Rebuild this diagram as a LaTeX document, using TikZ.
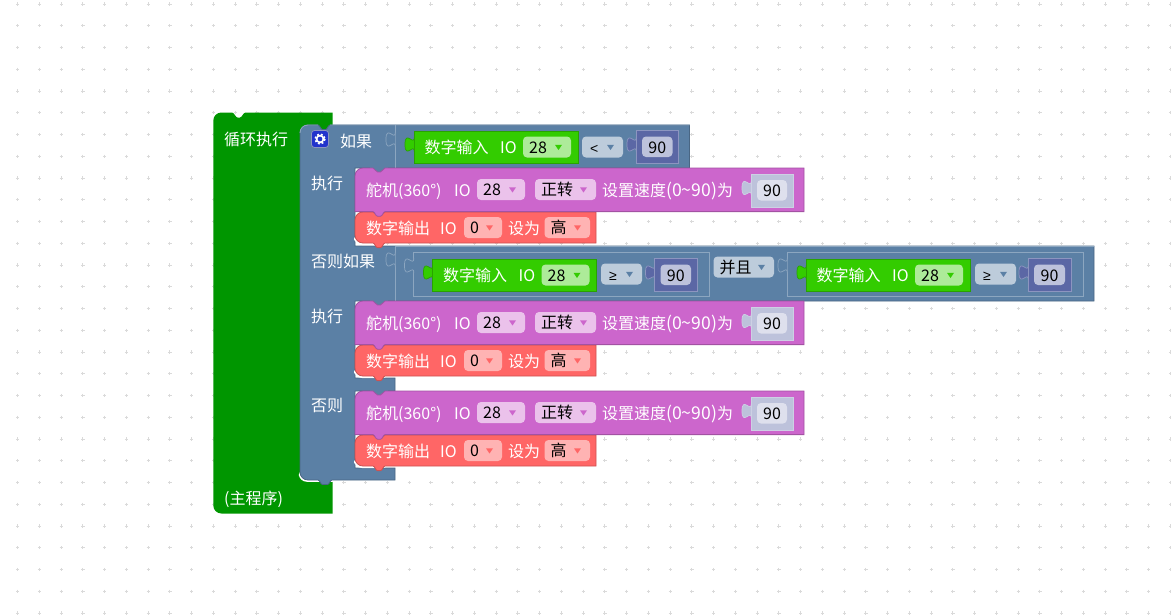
\documentclass[tikz,border=0pt]{standalone}
\usepackage{fontspec}
\setmainfont{Noto Sans CJK SC}
\newfontfamily\symf{Liberation Sans}
\definecolor{mainG}{HTML}{009600}
\definecolor{logic}{HTML}{5B80A5}
\definecolor{logicL}{HTML}{8CA6C0}
\definecolor{logicD}{HTML}{496684}
\definecolor{logicF}{HTML}{BDCCDB}
\definecolor{purp}{HTML}{CC66CC}
\definecolor{purpD}{HTML}{A352A3}
\definecolor{purpF}{HTML}{EBC2EB}
\definecolor{redb}{HTML}{FF6666}
\definecolor{redD}{HTML}{CC5252}
\definecolor{redF}{HTML}{FFB3B3}
\definecolor{grn}{HTML}{33CC00}
\definecolor{grnD}{HTML}{29A300}
\definecolor{grnF}{HTML}{ADEB99}
\definecolor{indi}{HTML}{5B67A5}
\definecolor{indiL}{HTML}{8C95C0}
\definecolor{indiF}{HTML}{BDC2DB}
\definecolor{shad}{HTML}{BDC2DB}
\definecolor{shadL}{HTML}{CDD0E4}
\definecolor{shadF}{HTML}{DEE0ED}
\definecolor{dotc}{HTML}{DADADA}
\definecolor{iconb}{HTML}{2233CC}
\newcount\nn
\newcommand{\wtxt}[3]{\global\advance\nn by 1 \node[wtext] (t\the\nn) at (#1,{#2+6.3}) {#3};}
% x1 x2 ymid fill arrow text
\newcommand{\ddown}[6]{\global\advance\nn by 1
  \path[fill=#4,rounded corners=4pt] (#1,{#3-10.5}) rectangle (#2,{#3+10.5});
  \node[btext] (t\the\nn) at ({#1+6},{#3+6.3}) {#6};
  \path[fill=#5] ({#2-16},{#3-2.2}) -- ({#2-9},{#3-2.2}) -- ({#2-12.5},{#3+3}) -- cycle;}
% x(left) ytop fill draw
\newcommand{\tabb}[4]{\path[fill=#3,draw=#4,line width=.7,shift={(#1,#2)}] (0.4,0) .. controls (0.4,10) and (-9,-8) .. (-9,7.5) .. controls (-9,23) and (0.4,5) .. (0.4,15);}
% x1 x2 ymid blockfill edge fieldfill text
\newcommand{\valb}[7]{\global\advance\nn by 1
  \tabb{#1}{{#3-10}}{#4}{#5}
  \path[fill=#4,draw=#5,line width=.8] (#1,{#3-16.5}) rectangle (#2,{#3+16.5});
  \path[fill=#6,rounded corners=4pt] ({#1+6},{#3-10.5}) rectangle ({#2-6},{#3+10});
  \node[btext,anchor=base] (t\the\nn) at ({(#1+#2)/2},{#3+6.3}) {#7};}
% x1 ymid: digital input block
\newcommand{\dinb}[2]{%
  \tabb{#1}{{#2-10}}{grn}{grnD}
  \path[fill=grn,draw=grnD,line width=.8] (#1,{#2-16}) rectangle ({#1+164},{#2+16});
  \wtxt{#1+10.5}{#2}{数字输入}
  \wtxt{#1+86}{#2}{IO}
  \ddown{#1+109}{#1+157}{#2}{grnF}{grn}{28}}
% x y w h fill draw r
\newcommand{\stmt}[7]{\path[fill=#5,draw=#6,line width=.8,shift={(#1,#2)}]
  (0,8) .. controls (0,3.5) and (3.5,0) .. (8,0) -- (18,0)
  .. controls (20,0.2) and (20.5,4) .. (22.5,4) -- (25.5,4) .. controls (27.5,4) and (28,0.2) .. (30,0)
  -- (#3,0) -- (#3,#4) -- (30,#4)
  .. controls (28,{#4+0.2}) and (27.5,{#4+4.6}) .. (25.5,{#4+4.6}) -- (22.5,{#4+4.6}) .. controls (20.5,{#4+4.6}) and (20,{#4+0.2}) .. (18,#4)
  -- ({#7},#4) .. controls ({.44*#7},#4) and (0,{#4-.44*#7}) .. (0,{#4-#7}) -- cycle;}
\tikzset{
  wtext/.style={anchor=base west,inner sep=0pt,text=white,font=\fontsize{16}{16}\selectfont},
  btext/.style={anchor=base west,inner sep=0pt,text=black,font=\fontsize{16}{16}\selectfont},
  frameb/.style={draw=logicL,line width=.8,fill=logic}
}
\begin{document}
\begin{tikzpicture}[x=1pt,y=-1pt]
\useasboundingbox (0,0) rectangle (1171,616);
\path[fill=white] (0,0) rectangle (1171,616);
% dot grid
\foreach \i in {0,...,53}{\foreach \j in {0,...,28}{
  \pgfmathsetmacro\dx{17.7+21.75*\i}\pgfmathsetmacro\dy{4+21.75*\j}
  \draw[dotc,line width=1] (\dx-1.7,\dy) -- (\dx+1.7,\dy) (\dx,\dy-1.7) -- (\dx,\dy+1.7);
}}
% main loop block
\path[fill=mainG] (213.3,120.5) .. controls (213.3,116) and (217,112.5) .. (221.3,112.5) -- (232,112.5)
  .. controls (234.5,112.7) and (235.5,117.5) .. (237.5,117.5) -- (240,117.5) .. controls (242,117.5) and (243,112.7) .. (245.5,112.5)
  -- (332.5,112.5) -- (332.5,125) -- (330,125) .. controls (328,125.2) and (327.5,129.5) .. (325.5,129.5) -- (322.5,129.5) .. controls (320.5,129.5) and (320,125.2) .. (318,125)
  -- (308,125) .. controls (303.5,125) and (300,128.5) .. (300,133) -- (300,472)
  .. controls (300,476.5) and (303.5,480) .. (308,480) -- (332.5,480) -- (332.5,513.5) -- (221.3,513.5)
  .. controls (217,513.5) and (213.3,510) .. (213.3,505.5) -- cycle;
\path[fill=white,rounded corners=8pt] (298.8,468) rectangle (345,481.8);
% logic block
\path[fill=logic,draw=logicD,line width=.8]
  (300,133) .. controls (300,128.5) and (303.5,125) .. (308,125) -- (318,125)
  .. controls (320,125.2) and (320.5,129.5) .. (322.5,129.5) -- (325.5,129.5) .. controls (327.5,129.5) and (328,125.2) .. (330,125)
  -- (689.5,125) -- (689.5,168) -- (355,168) -- (355,246) -- (1094,246) -- (1094,301) -- (355,301) -- (355,378)
  -- (395,378) -- (395,391) -- (355,391) -- (355,468) -- (395,468) -- (395,480) -- (332,480)
  .. controls (330,480.2) and (329.5,484.5) .. (327.5,484.5) -- (322.5,484.5) .. controls (320.5,484.5) and (320,480.2) .. (318,480)
  -- (308,480) .. controls (303.5,480) and (300,476.5) .. (300,472) -- cycle;
\draw[logicL,line width=.9] (300,133) .. controls (300,128.5) and (303.5,125) .. (308,125) -- (318,125) (330,125) -- (689.5,125);
\draw[logicL,line width=.9] (395,246.2) -- (1094,246.2);
\draw[logicL,line width=.9] (395,125) -- (395,168) (395,246) -- (395,301);
\tabb{395}{132}{logic}{logicL}
\tabb{395}{252}{logic}{logicL}
% icon
\path[fill=iconb,draw=indiL,line width=.8,rounded corners=3pt] (311.5,130.5) rectangle (328.5,147.5);
\draw[white,line width=1.7,dash pattern=on 1.9pt off 2pt] (320,139) circle (4.9);
\draw[white,line width=1.6] (320,139) circle (3.4);
% labels on blocks
\wtxt{224}{139}{循环执行}
\wtxt{340}{141}{如果}
\wtxt{311}{183}{执行}
\wtxt{311}{261}{否则如果}
\wtxt{311}{316}{执行}
\wtxt{311}{405}{否则}
\wtxt{224}{498}{(主程序)}
% if-row
\dinb{414}{147}
\ddown{582}{623}{147}{logicF}{logic}{\hspace{2pt}\symf\fontsize{14}{14}\selectfont <}
\valb{636}{678.5}{147}{indi}{indiL}{indiF}{90}
% else-if row
\path[frameb] (413.5,252) rectangle (709,296);
\tabb{413.5}{258}{logic}{logicL}
\dinb{432.5}{275}
\ddown{601}{642}{274}{logicF}{logic}{\hspace{2pt}\symf\fontsize{14}{14}\selectfont ≥}
\valb{654.5}{697}{275}{indi}{indiL}{indiF}{90}
\ddown{713.5}{774}{267}{logicF}{logic}{并且}
\path[frameb] (787,252) rectangle (1083,296);
\tabb{787}{258}{logic}{logicL}
\dinb{806}{275}
\ddown{975}{1016}{274}{logicF}{logic}{\hspace{2pt}\symf\fontsize{14}{14}\selectfont ≥}
\valb{1028}{1071}{275}{indi}{indiL}{indiF}{90}
% statement stacks
\foreach \sh in {0,133,223}{
\begin{scope}[shift={(0,\sh)}]
  \path[fill=logic] (370,166) rectangle (388,174);
  \path[fill=white,rounded corners=8pt] (354,233) rectangle (390,245);
  \stmt{355}{212}{241}{31}{redb}{redD}{8}
  \stmt{355}{168}{449}{43.6}{purp}{purpD}{0}
  \wtxt{366}{190}{舵机(360°)}
  \wtxt{454}{190}{IO}
  \ddown{477}{525}{189.5}{purpF}{purp}{28}
  \ddown{535}{596}{189.5}{purpF}{purp}{正转}
  \wtxt{602}{190}{设置速度{\fontsize{17.6}{16}\selectfont(0{\char"007E}90)}为}
  \valb{751}{793}{190.5}{shad}{shadL}{shadF}{90}
  \wtxt{366}{228}{数字输出}
  \wtxt{440}{228}{IO}
  \ddown{464}{502}{227.5}{redF}{redb}{0}
  \wtxt{508}{228}{设为}
  \ddown{544.5}{590}{227.5}{redF}{redb}{高}
\end{scope}
}
\end{tikzpicture}
\end{document}
